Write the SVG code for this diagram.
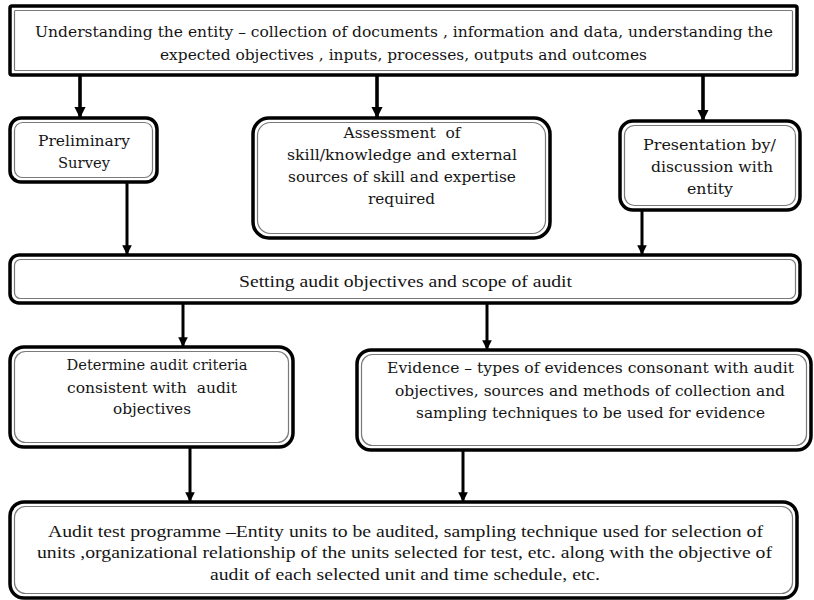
<svg xmlns="http://www.w3.org/2000/svg" width="814" height="600" viewBox="0 0 814 600">
<defs>
<style>
.o{fill:#fff;stroke:#000;stroke-width:3.5}
.i{fill:none;stroke:#7a7a7a;stroke-width:1.2}
.t{font-family:"DejaVu Serif","Liberation Serif",serif;font-size:15px;fill:#151515;text-anchor:middle;white-space:pre}
.c{font-family:"Liberation Serif","DejaVu Serif",serif;font-size:16px;fill:#151515;text-anchor:middle}
.a{stroke:#000;stroke-width:3;fill:none;marker-end:url(#ah)}
.a4{stroke:#000;stroke-width:3.6;fill:none;marker-end:url(#ah)}
</style>
<marker id="ah" viewBox="0 0 10 10" refX="9" refY="5" markerWidth="3.2" markerHeight="3.2" orient="auto" markerUnits="strokeWidth">
<path d="M0,0 L10,5 L0,10 z" fill="#000"/>
</marker>
</defs>
<rect width="814" height="600" fill="#fff"/>

<g id="connectors">
<line class="a4" x1="80" y1="76" x2="80" y2="117"/>
<line class="a4" x1="377" y1="76" x2="377" y2="117"/>
<line class="a4" x1="703" y1="76" x2="703" y2="120"/>
<line class="a" x1="127" y1="183" x2="127" y2="254"/>
<line class="a" x1="642" y1="211" x2="642" y2="254"/>
<line class="a" x1="183" y1="304" x2="183" y2="346"/>
<line class="a" x1="487" y1="304" x2="487" y2="349"/>
<line class="a" x1="190" y1="448" x2="190" y2="501"/>
<line class="a" x1="463" y1="451" x2="463" y2="501"/>
</g>

<g id="top">
<rect class="o" x="10" y="6" width="787" height="69" rx="2"/>
<rect class="i" x="14.5" y="10.5" width="778" height="60" rx="1"/>
<text class="t" x="404" y="37" textLength="738" lengthAdjust="spacingAndGlyphs">Understanding the entity – collection of documents , information and data, understanding the</text>
<text class="t" x="403.5" y="60" textLength="487" lengthAdjust="spacingAndGlyphs">expected objectives , inputs, processes, outputs and outcomes</text>
</g>

<g id="preliminary">
<rect class="o" x="10" y="118" width="147" height="64" rx="11"/>
<rect class="i" x="14.5" y="122.5" width="138" height="55" rx="8"/>
<text class="t" x="84" y="146" textLength="92" lengthAdjust="spacingAndGlyphs">Preliminary</text>
<text class="t" x="84" y="168" textLength="52" lengthAdjust="spacingAndGlyphs">Survey</text>
</g>

<g id="assessment">
<rect class="o" x="253" y="118" width="297" height="120" rx="16"/>
<rect class="i" x="257.5" y="122.5" width="288" height="111" rx="13"/>
<text class="t" x="402" y="138" textLength="117" lengthAdjust="spacingAndGlyphs" xml:space="preserve">Assessment  of</text>
<text class="t" x="402" y="160" textLength="230" lengthAdjust="spacingAndGlyphs">skill/knowledge and external</text>
<text class="t" x="402" y="182" textLength="228" lengthAdjust="spacingAndGlyphs">sources of skill and expertise</text>
<text class="t" x="401.5" y="204" textLength="67" lengthAdjust="spacingAndGlyphs">required</text>
</g>

<g id="presentation">
<rect class="o" x="620" y="121" width="180" height="89" rx="13"/>
<rect class="i" x="624.5" y="125.5" width="171" height="80" rx="10"/>
<text class="t" x="709.5" y="150" textLength="133" lengthAdjust="spacingAndGlyphs">Presentation by/</text>
<text class="t" x="712" y="172" textLength="122" lengthAdjust="spacingAndGlyphs">discussion with</text>
<text class="t" x="710" y="194" textLength="46" lengthAdjust="spacingAndGlyphs">entity</text>
</g>

<g id="setting">
<rect class="o" x="10" y="255" width="790" height="48" rx="9"/>
<rect class="i" x="14.5" y="259.5" width="781" height="39" rx="6"/>
<text class="c" x="405.5" y="287" textLength="333" lengthAdjust="spacingAndGlyphs">Setting audit objectives and scope of audit</text>
</g>

<g id="criteria">
<rect class="o" x="10" y="347" width="283" height="100" rx="14"/>
<rect class="i" x="14.5" y="351.5" width="274" height="91" rx="11"/>
<text class="t" x="157" y="370" textLength="181" lengthAdjust="spacingAndGlyphs">Determine audit criteria</text>
<text class="t" x="152" y="393" textLength="170" lengthAdjust="spacingAndGlyphs" xml:space="preserve">consistent with  audit</text>
<text class="t" x="152" y="414" textLength="78" lengthAdjust="spacingAndGlyphs">objectives</text>
</g>

<g id="evidence">
<rect class="o" x="357" y="350" width="454" height="100" rx="14"/>
<rect class="i" x="361.5" y="354.5" width="445" height="91" rx="11"/>
<text class="t" x="590.5" y="373" textLength="407" lengthAdjust="spacingAndGlyphs">Evidence – types of evidences consonant with audit</text>
<text class="t" x="590" y="396" textLength="390" lengthAdjust="spacingAndGlyphs">objectives, sources and methods of collection and</text>
<text class="t" x="590.5" y="418" textLength="349" lengthAdjust="spacingAndGlyphs">sampling techniques to be used for evidence</text>
</g>

<g id="programme">
<rect class="o" x="10" y="502" width="787" height="96" rx="14"/>
<rect class="i" x="14.5" y="506.5" width="778" height="87" rx="11"/>
<text class="c" x="405.5" y="537" textLength="715" lengthAdjust="spacingAndGlyphs">Audit test programme –Entity units to be audited, sampling technique used for selection of</text>
<text class="c" x="404.5" y="558" textLength="735" lengthAdjust="spacingAndGlyphs">units ,organizational relationship of the units selected for test, etc. along with the objective of</text>
<text class="c" x="405" y="580" textLength="390" lengthAdjust="spacingAndGlyphs">audit of each selected unit and time schedule, etc.</text>
</g>
</svg>
